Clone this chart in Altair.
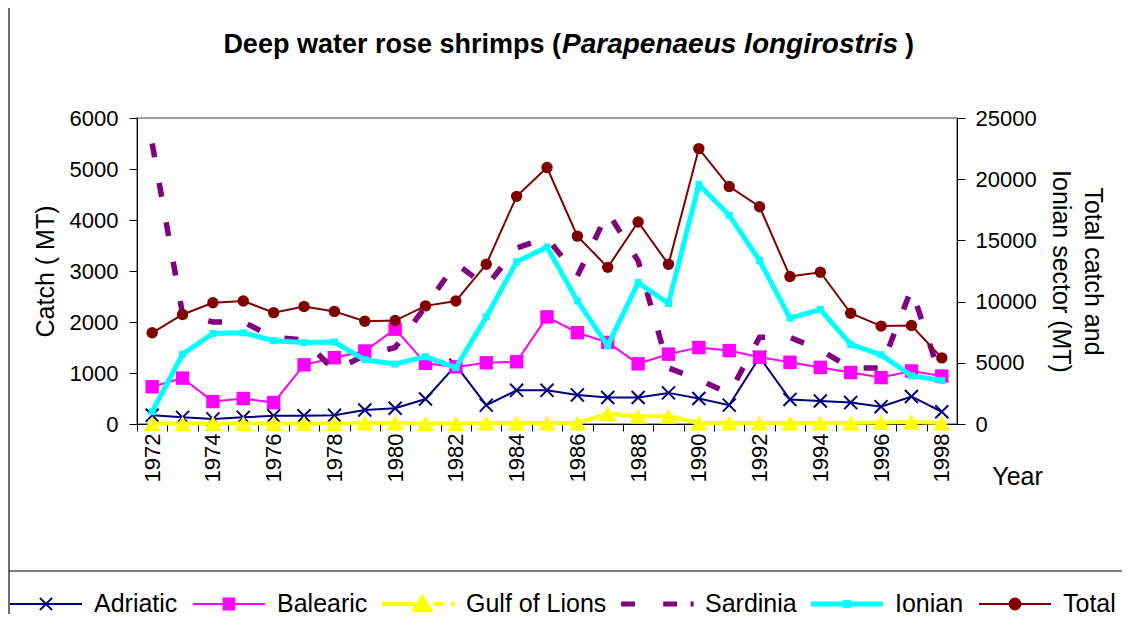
import altair as alt
import pandas as pd

# ---------------- data ----------------
years = list(range(1972, 1999))
adriatic = [170, 130, 100, 130, 160, 160, 170, 275, 310, 490, 1150, 370, 660, 660,
            570, 520, 520, 610, 500, 370, 1310, 480, 450, 420, 340, 540, 240]
balearic = [730, 900, 440, 500, 420, 1160, 1300, 1430, 1860, 1190, 1120, 1200, 1220, 2100,
            1790, 1600, 1180, 1370, 1500, 1440, 1310, 1210, 1110, 1010, 910, 1040, 940]
gulf_of_lions = [10, 10, 10, 10, 10, 10, 10, 20, 20, 10, 10, 20, 20, 20,
                 20, 200, 150, 150, 20, 20, 20, 20, 20, 20, 30, 40, 20]
sardinia = [5500, 2150, 2000, 2000, 1700, 1650, 1050, 1350, 1500, 2300, 3150, 2700, 3450, 3650,
            2900, 4150, 3200, 1100, 870, 600, 1700, 1700, 1450, 1100, 1100, 2650, 850]
ionian = [1000, 5700, 7400, 7450, 6800, 6650, 6700, 5250, 4900, 5500, 4600, 8750, 13250, 14450,
          10050, 6400, 11550, 9850, 19550, 17050, 13350, 8650, 9350, 6500, 5650, 3950, 3550]
total = [7450, 8950, 9900, 10050, 9100, 9600, 9200, 8400, 8450, 9650, 10050, 13050, 18600, 20950,
         15350, 12800, 16500, 13050, 22500, 19400, 17750, 12050, 12400, 9050, 8000, 8050, 5400]

series_names = ["Adriatic", "Balearic", "Gulf of Lions", "Sardinia", "Ionian", "Total"]
series_values = [adriatic, balearic, gulf_of_lions, sardinia, ionian, total]
left_series = ["Adriatic", "Balearic", "Gulf of Lions", "Sardinia"]
right_series = ["Ionian", "Total"]

left_ticks = [0, 1000, 2000, 3000, 4000, 5000, 6000]
right_ticks = [0, 5000, 10000, 15000, 20000, 25000]

title_parts = ["Deep water rose shrimps (", "Parapenaeus longirostris", ")"]
left_title = "Catch ( MT)"
right_title = ["Total catch and", "Ionian sector (MT)"]
x_title = "Year"

rows = []
for name, vals in zip(series_names, series_values):
    for yr, v in zip(years, vals):
        rows.append({"year": yr, "series": name, "value": v})
df = pd.DataFrame(rows)

# ---------------- styles ----------------
FONT = "Liberation Sans"
colors = {"Adriatic": "#000080", "Balearic": "#FF00FF", "Gulf of Lions": "#FFFF00",
          "Sardinia": "#800080", "Ionian": "#00FFFF", "Total": "#800000"}
line_styles = {
    "Adriatic": dict(strokeWidth=2),
    "Balearic": dict(strokeWidth=2),
    "Gulf of Lions": dict(strokeWidth=4),
    "Sardinia": dict(strokeWidth=5.5, strokeDash=[14, 26], strokeCap="butt"),
    "Ionian": dict(strokeWidth=5),
    "Total": dict(strokeWidth=2),
}
point_styles = {
    "Adriatic": dict(shape="M-1,-1L1,1M-1,1L1,-1", filled=False, size=170, strokeWidth=2),
    "Balearic": dict(shape="square", filled=True, size=180),
    "Gulf of Lions": dict(shape="triangle-up", filled=True, size=300),
    "Ionian": dict(shape="square", filled=True, size=49),
    "Total": dict(shape="circle", filled=True, size=130),
}

W, H = 820, 306
step = W / len(years)

# legend glyphs: unit square [-1, 1] is 72 px wide (symbolSize 5184)
legend_shapes = {
    "Adriatic": "M-1,0H1M-0.17,-0.17L0.17,0.17M-0.17,0.17L0.17,-0.17",
    "Balearic": "M-1,0H1M-0.15,-0.15H0.15V0.15H-0.15Z",
    "Gulf of Lions": ("M-0.97,-0.028H-0.1V0.028H-0.97Z"
                      "M-0.15,0.2L0.12,-0.24L0.39,0.2Z"
                      "M0.45,-0.028H0.7V0.028H0.45Z"
                      "M0.95,-0.028H0.99V0.028H0.95Z"),
    "Sardinia": ("M-0.97,-0.042H-0.64V0.042H-0.97Z"
                 "M0.2,-0.042H0.53V0.042H0.2Z"
                 "M0.96,-0.042H0.99V0.042H0.96Z"),
    "Ionian": "M-0.97,-0.042H0.97V0.042H-0.97ZM-0.08,-0.08H0.08V0.08H-0.08Z",
    "Total": "M-1,0H1M0.15,0A0.15,0.15 0 1,1 -0.15,0A0.15,0.15 0 1,1 0.15,0Z",
}


def per_entry(mapping, default):
    expr = f"'{default}'"
    for k in reversed(list(mapping)):
        expr = f"datum.value == '{k}' ? '{mapping[k]}' : ({expr})"
    return alt.ExprRef(expr=expr)


legend = alt.Legend(
    title=None, orient="none", legendX=-128, legendY=449, direction="horizontal",
    columns=6, labelFont=FONT, labelFontSize=25, labelColor="black", labelOffset=11,
    columnPadding=11, symbolSize=5184, labelLimit=400,
    symbolType=per_entry(legend_shapes, "circle"),
    symbolFillColor=per_entry(colors, "black"),
    symbolStrokeWidth=2,
    symbolOpacity=1,
)

color_enc = alt.Color("series:N",
                      scale=alt.Scale(domain=series_names,
                                      range=[colors[s] for s in series_names]),
                      legend=legend)

x_enc = alt.X("year:O",
              scale=alt.Scale(type="point", padding=0.5),
              axis=alt.Axis(title=x_title, labelAngle=-90, labelOverlap=False,
                            labelExpr="datum.value % 2 == 0 ? datum.label : ''",
                            tickOffset=-step / 2, labelOffset=step / 2,
                            tickSize=7, labelPadding=2,
                            titleX=880, titleY=52, titleAlign="center",
                            titleBaseline="middle", titleAngle=0))

y_left = alt.Y("value:Q", scale=alt.Scale(domain=[0, 6000], nice=False),
               axis=alt.Axis(title=left_title, values=left_ticks, format="d", tickSize=8,
                             labelPadding=11, labelFlush=False,
                             titleAngle=-90, titleX=-92, titleY=H / 2,
                             titleAlign="center", titleBaseline="middle"))
y_right = alt.Y("value:Q", scale=alt.Scale(domain=[0, 25000], nice=False),
                axis=alt.Axis(title=right_title, orient="right", values=right_ticks,
                              format="d", tickSize=8, labelPadding=10, labelFlush=False,
                              titleAngle=90, titleX=135, titleY=H / 2,
                              titleAlign="center", titleBaseline="middle",
                              titleLineHeight=32))


def series_layers(name, y_enc):
    base = alt.Chart(df).transform_filter(alt.datum.series == name)
    out = [base.mark_line(color=colors[name], **line_styles[name]).encode(x=x_enc, y=y_enc)]
    if name in point_styles:
        out.append(base.mark_point(color=colors[name], opacity=1, **point_styles[name])
                   .encode(x=x_enc, y=y_enc))
    return out


# legend-only layer (draws nothing, carries the colour scale and its legend)
legend_layer = alt.Chart(df).transform_filter("false").mark_line().encode(
    x=x_enc, y=y_left, color=color_enc)

left_layers = [legend_layer]
for s in left_series:
    left_layers += series_layers(s, y_left)
right_layers = []
for s in right_series:
    right_layers += series_layers(s, y_right)

left = alt.layer(*left_layers)
right = alt.layer(*right_layers)

one = pd.DataFrame({"k": [0]})
frame_v = alt.Chart(one).mark_rule(color="#404040", strokeWidth=1.5).encode(
    x=alt.value(-128), y=alt.value(-110), y2=alt.value(502))
frame_h = alt.Chart(one).mark_rule(color="black", strokeWidth=1.2).encode(
    x=alt.value(-128), x2=alt.value(985), y=alt.value(453))

t1 = alt.Chart(one).mark_text(font=FONT, fontSize=27, fontWeight="bold", align="right",
                              baseline="middle", color="black").encode(
    text=alt.value(title_parts[0]), x=alt.value(424), y=alt.value(-73))
t2 = alt.Chart(one).mark_text(font=FONT, fontSize=28, fontWeight="bold", fontStyle="italic",
                              align="left", baseline="middle", color="black").encode(
    text=alt.value(title_parts[1]), x=alt.value(425), y=alt.value(-73))
t3 = alt.Chart(one).mark_text(font=FONT, fontSize=27, fontWeight="bold", align="left",
                              baseline="middle", color="black").encode(
    text=alt.value(title_parts[2]), x=alt.value(768), y=alt.value(-73))

chart = alt.layer(frame_v, frame_h, t1, t2, t3, left, right).resolve_scale(
    y="independent"
).properties(
    width=W, height=H,
    autosize=alt.AutoSizeParams(type="none"),
    padding={"left": 129, "top": 110, "right": 165, "bottom": 190},
    background="white",
).configure(font=FONT).configure_view(
    stroke="#808080", strokeWidth=1.5
).configure_axis(
    labelFont=FONT, titleFont=FONT, labelFontSize=22, titleFontSize=25,
    titleFontWeight="normal", labelColor="black", titleColor="black",
    domainColor="black", tickColor="black", domainWidth=1, tickWidth=1, grid=False,
)

chart.save("out.html", embed_options={"renderer": "svg", "actions": False})
